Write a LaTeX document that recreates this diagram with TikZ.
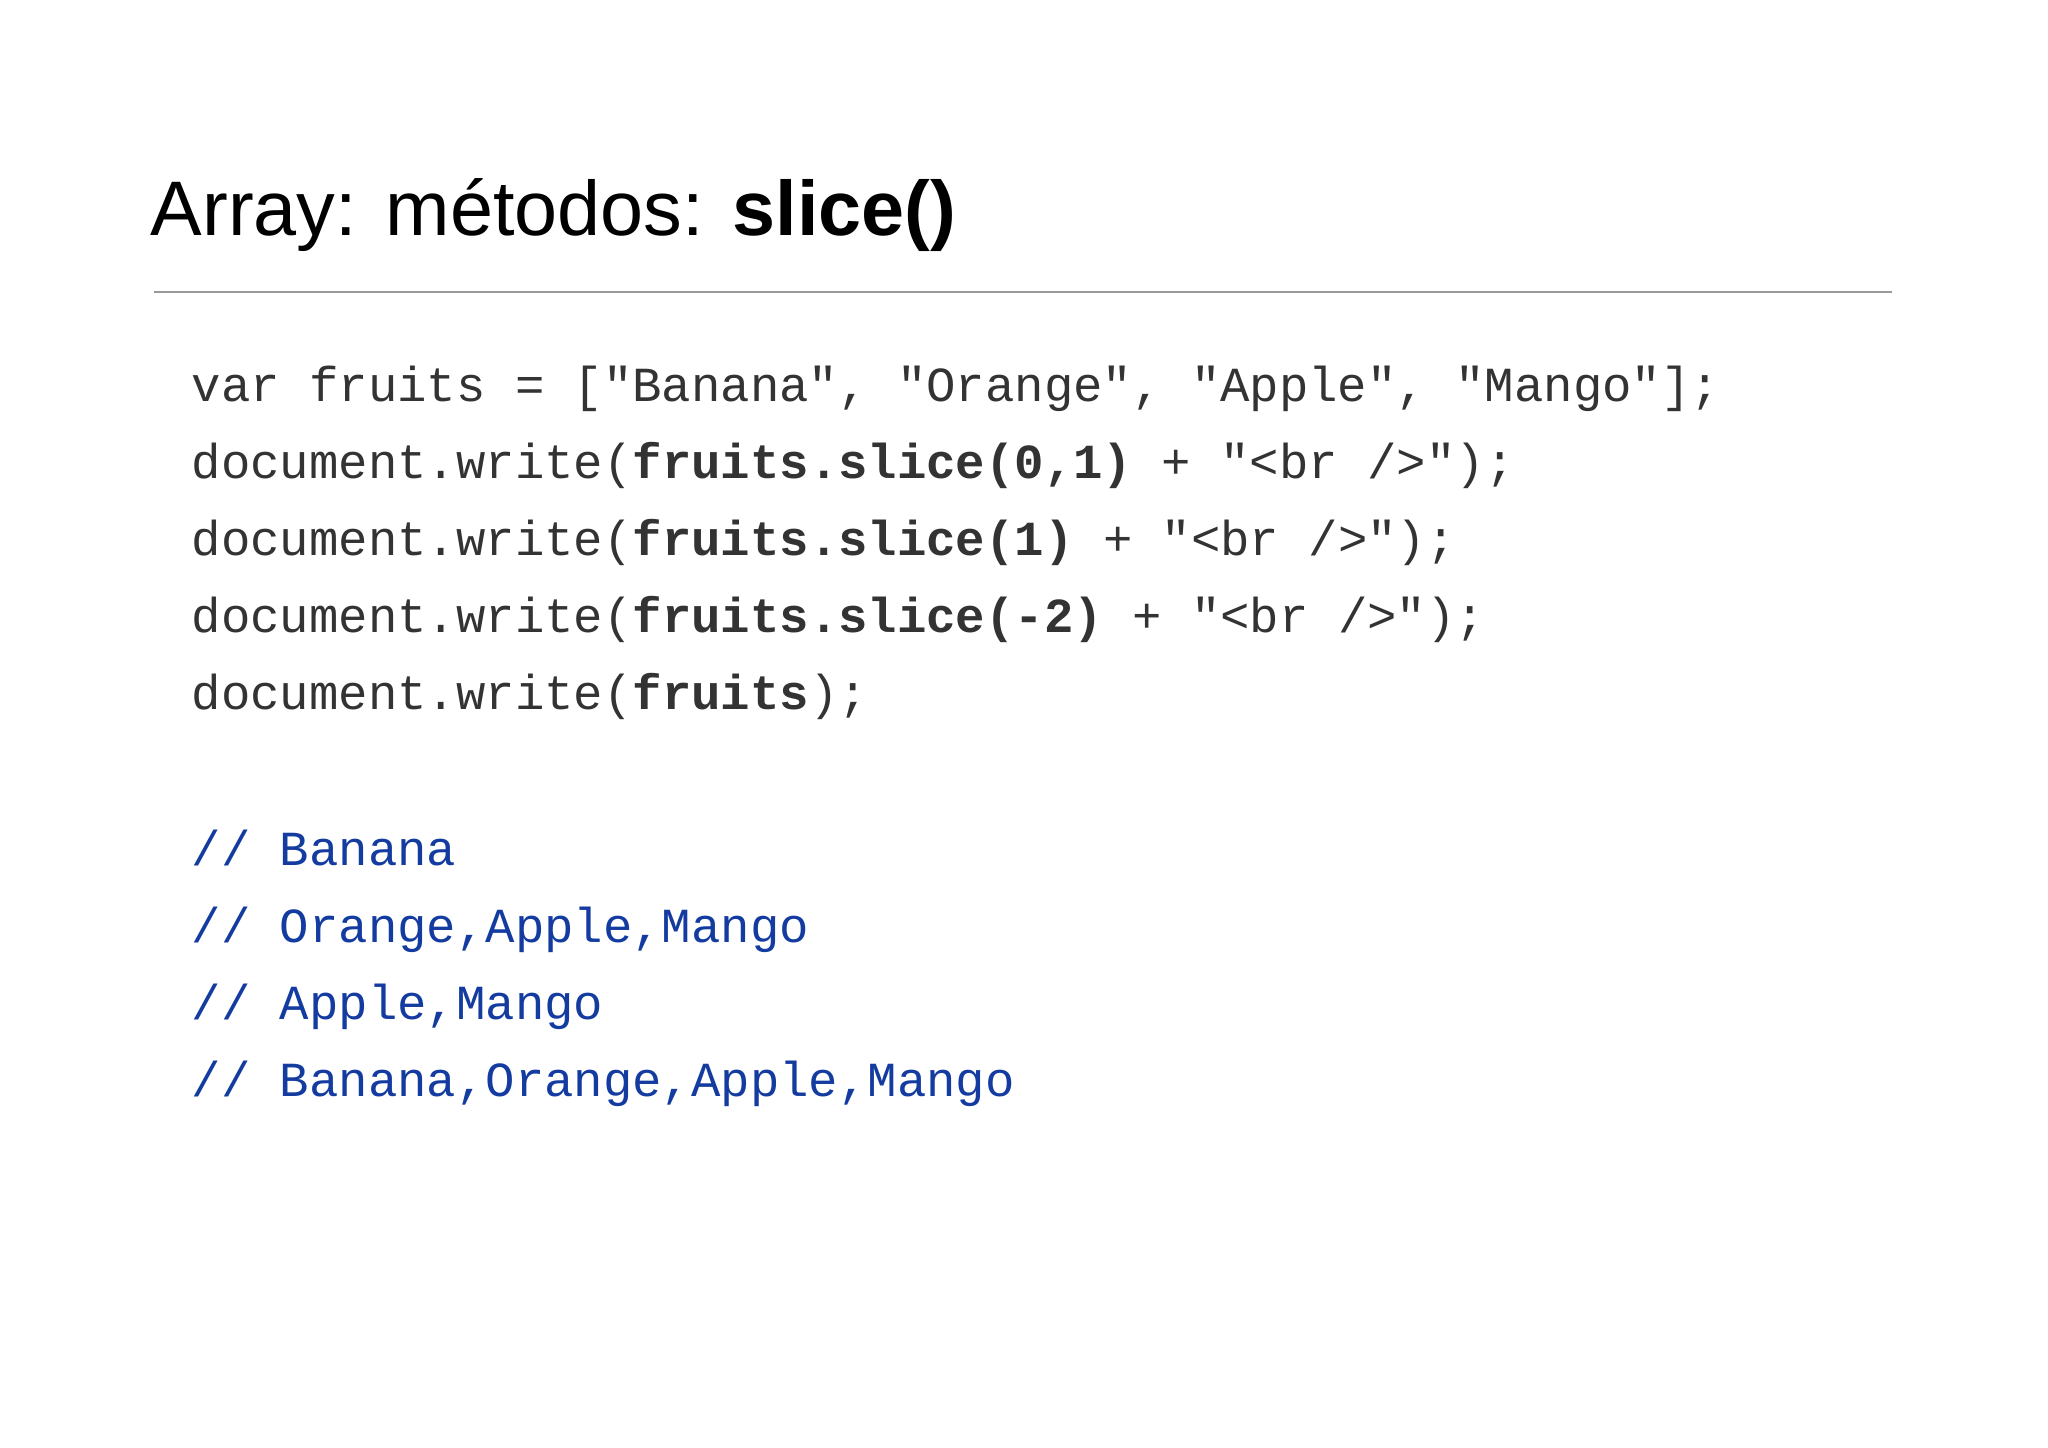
\documentclass[tikz,border=0pt]{standalone}
\usepackage{fontspec}
\setmainfont{Liberation Sans}
\setmonofont{Liberation Mono}
\begin{document}
\begin{tikzpicture}[x=0.01cm,y=-0.01cm,
  code/.style={anchor=base west,inner sep=0,text=black!80,font=\fontsize{13.93}{16}\selectfont\ttfamily},
  cmt/.style={anchor=base west,inner sep=0,text={rgb,255:red,20;green,60;blue,160},font=\fontsize{13.93}{16}\selectfont\ttfamily}]
\useasboundingbox (0,0) rectangle (2048,1447);
\fill[white] (0,0) rectangle (2048,1447);
\node[anchor=base west,inner sep=0,font=\fontsize{22}{26}\selectfont] (title) at (150,235) {Array: métodos: \textbf{slice()}};
\coordinate (r1) at (154,292); \coordinate (r2) at (1892,292);
\draw[black!40,line width=0.8pt] (r1) -- (r2);
\node[code] (c1) at (191,401) {var fruits = ["Banana", "Orange", "Apple", "Mango"];};
\node[code] (c2) at (191,478) {document.write(\textbf{fruits.slice(0,1)} + "<br />");};
\node[code] (c3) at (191,555) {document.write(\textbf{fruits.slice(1)} + "<br />");};
\node[code] (c4) at (191,632) {document.write(\textbf{fruits.slice(-2)} + "<br />");};
\node[code] (c5) at (191,709) {document.write(\textbf{fruits});};
\node[cmt] (o1) at (191,865) {// Banana};
\node[cmt] (o2) at (191,942) {// Orange,Apple,Mango};
\node[cmt] (o3) at (191,1019) {// Apple,Mango};
\node[cmt] (o4) at (191,1096) {// Banana,Orange,Apple,Mango};
\end{tikzpicture}
\end{document}
